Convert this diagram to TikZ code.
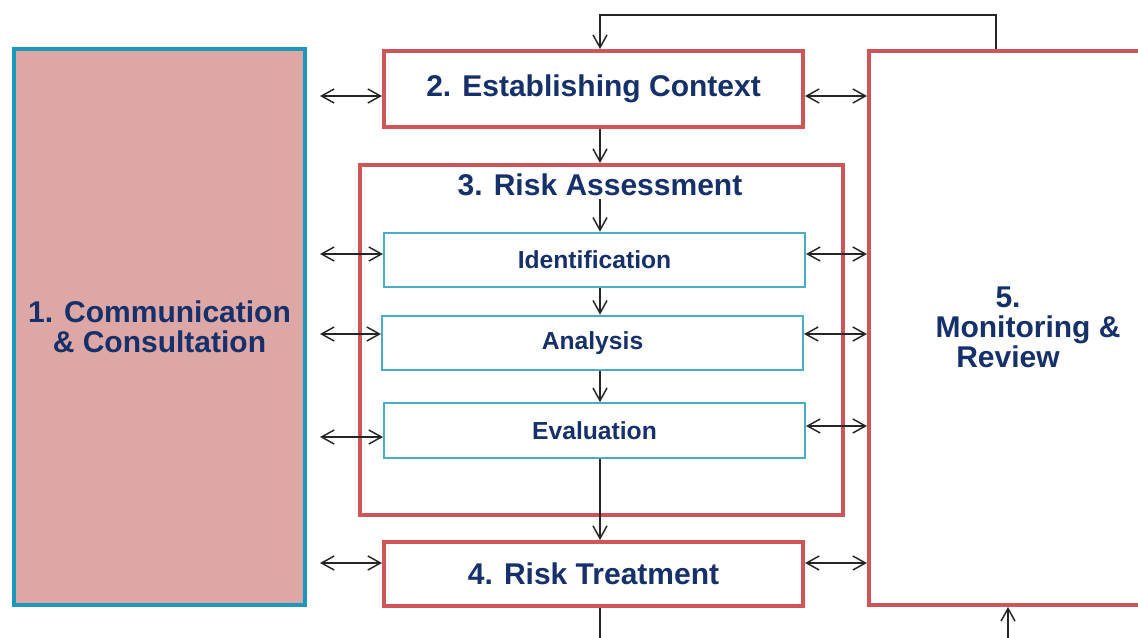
\documentclass[tikz,border=0pt]{standalone}
\usepackage{fontspec}
\setmainfont{Liberation Sans}
\usetikzlibrary{arrows.meta}
\definecolor{navy}{RGB}{22,48,106}
\definecolor{redline}{RGB}{206,86,86}
\definecolor{tealline}{RGB}{28,152,190}
\definecolor{subline}{RGB}{75,172,198}
\definecolor{pinkfill}{RGB}{221,167,165}
\tikzset{
  bigbox/.style={draw=redline, line width=3pt, fill=white, inner sep=0pt},
  subbox/.style={draw=subline, line width=1.5pt, fill=white, inner sep=0pt,
    minimum width=315.75pt, minimum height=41pt,
    font=\fontsize{18.5}{22}\selectfont\bfseries, text=navy},
  htext/.style={font=\fontsize{22.5}{22.5}\selectfont\bfseries, text=navy},
  conn/.style={line width=1.1pt, draw=black!85},
  arr/.style={conn, -{Straight Barb[length=9.5pt,width=10.5pt,line width=1.1pt]}},
  darr/.style={conn, {Straight Barb[length=9.5pt,width=10.5pt,line width=1.1pt]}-{Straight Barb[length=9.5pt,width=10.5pt,line width=1.1pt]}}
}
\begin{document}
\begin{tikzpicture}[x=0.75pt,y=-0.75pt]
\useasboundingbox (0,0) rectangle (1138,638);
\clip (0,0) rectangle (1138,638);
\fill[white] (0,0) rectangle (1138,638);

% boxes
\node[draw=tealline, line width=3pt, fill=pinkfill, minimum width=218.25pt, minimum height=417pt,
  inner sep=0pt, htext, align=center] (comm) at (159.5,327) {1. Communication\\\& Consultation};
\node[bigbox, minimum width=314.25pt, minimum height=57pt, htext] (ctx) at (593.5,89) {2. Establishing Context};
\node[bigbox, minimum width=362.25pt, minimum height=262.5pt] (ra) at (601.5,340) {};
\node[htext, inner sep=2pt] (ratitle) at (600,185) {3. Risk Assessment};
\node[subbox] (ident) at (594.5,260) {Identification};
\node[subbox] (anal) at (592.5,343) {Analysis};
\node[subbox] (eval) at (594.5,430.5) {Evaluation};
\node[bigbox, minimum width=314.25pt, minimum height=48pt, htext] (treat) at (593.5,574) {4. Risk Treatment};
\node[bigbox, minimum width=248.25pt, minimum height=415.5pt] (mon) at (1034.5,328) {};
\node[htext, align=center] (montext) at (1008,327.5) {5.\\\hspace*{30pt}Monitoring \&\\Review};

% column and free ends
\coordinate (col) at (600,0);
\coordinate (fbtop) at (996,15);
\coordinate (outB) at (600,645);
\coordinate (inB) at (1008,645);
\coordinate (L1) at (320,96);
\coordinate (L2) at (320,254);
\coordinate (L3) at (320,334);
\coordinate (L4) at (320,437);
\coordinate (L5) at (320,563);
\coordinate (R1) at (0,96);
\coordinate (R2) at (0,254);
\coordinate (R3) at (0,334);
\coordinate (R4) at (0,426);
\coordinate (R5) at (0,563);

% feedback loop
\draw[arr] (mon.north -| fbtop) -- (fbtop) -| (ctx.north -| col);
% main flow
\draw[arr] (ctx.south -| col) -- (ra.north -| col);
\draw[arr] (ratitle.south -| col) -- (ident.north -| col);
\draw[arr] (ident.south -| col) -- (anal.north -| col);
\draw[arr] (anal.south -| col) -- (eval.north -| col);
\draw[arr] (eval.south -| col) -- (treat.north -| col);
\draw[conn] (treat.south -| col) -- (outB);
\draw[arr] (inB) -- (mon.south -| inB);

% left double arrows
\draw[darr] (L1) -- (ctx.west |- L1);
\draw[darr] (L2) -- (ident.west |- L2);
\draw[darr] (L3) -- (anal.west |- L3);
\draw[darr] (L4) -- (eval.west |- L4);
\draw[darr] (L5) -- (treat.west |- L5);
% right double arrows
\draw[darr] (ctx.east |- R1) -- (mon.west |- R1);
\draw[darr] (ident.east |- R2) -- (mon.west |- R2);
\draw[darr] (anal.east |- R3) -- (mon.west |- R3);
\draw[darr] (eval.east |- R4) -- (mon.west |- R4);
\draw[darr] (treat.east |- R5) -- (mon.west |- R5);
\end{tikzpicture}
\end{document}
